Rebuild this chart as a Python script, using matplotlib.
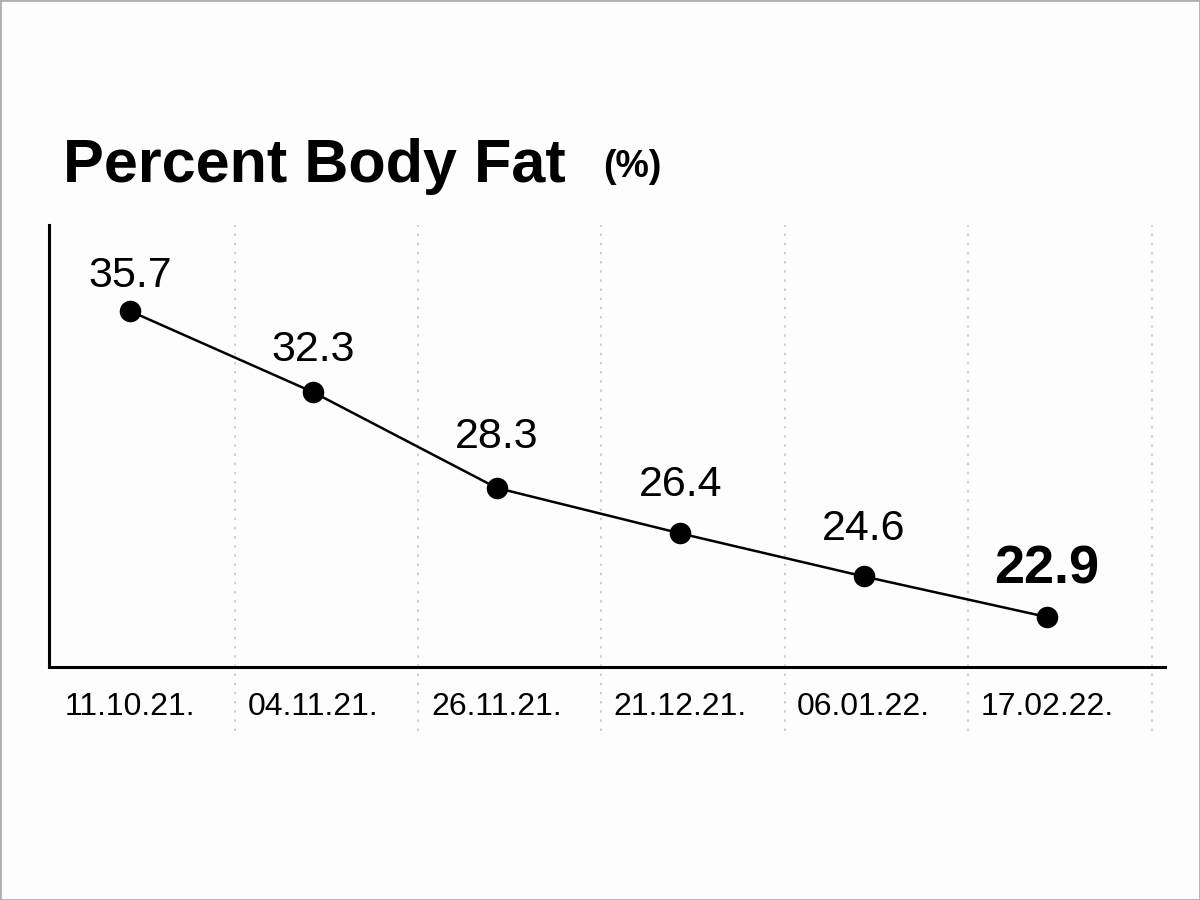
import matplotlib
matplotlib.use("Agg")
import matplotlib.pyplot as plt
import matplotlib.transforms as mtransforms

# data
dates = ["11.10.21.", "04.11.21.", "26.11.21.", "21.12.21.", "06.01.22.", "17.02.22."]
body_fat = [35.7, 32.3, 28.3, 26.4, 24.6, 22.9]

# gap between each point and its label baseline, in pixels
label_gap_px = [24, 31, 40, 37, 36, 34]

FONT = ["Liberation Sans", "DejaVu Sans"]

fig = plt.figure(figsize=(12, 9), dpi=100, facecolor="#fdfdfd")
ax = fig.add_axes([0.0408, 0.2589, 0.93, 0.4911])
ax.set_facecolor("#fdfdfd")

x = list(range(len(dates)))
ax.plot(x, body_fat, color="black", linewidth=1.8, marker="o",
        markersize=14.5, zorder=3)

# value labels, the last one in bold
for i, v in enumerate(body_fat):
    last = i == len(body_fat) - 1
    ax.annotate(f"{v}", (i, v), xytext=(0, label_gap_px[i] * 0.72),
                textcoords="offset points", ha="center", va="baseline",
                fontsize=39 if last else 31, family=FONT,
                fontweight="bold" if last else "normal")

# dotted separators between dates, running below the axis too
for i in range(len(dates)):
    ax.axvline(i + 0.57, ymin=-0.145, ymax=1.0, color="#c8c8c8",
               linestyle=(0, (1.5, 4)), linewidth=1.2, clip_on=False, zorder=1)

ax.set_xlim(-0.442, 5.643)
ax.set_ylim(20.81, 39.3)

ax.set_xticks(x)
ax.set_xticklabels(dates, family=FONT, fontsize=23)
shift = mtransforms.ScaledTranslation(6 / 100, 0, fig.dpi_scale_trans)
for lbl in ax.get_xticklabels():
    lbl.set_transform(lbl.get_transform() + shift)
ax.tick_params(axis="x", length=0, pad=18)
ax.set_yticks([])

for side in ["top", "right"]:
    ax.spines[side].set_visible(False)
for side in ["left", "bottom"]:
    ax.spines[side].set_linewidth(2.2)
    ax.spines[side].set_color("black")

# title
fig.text(63 / 1200, 1 - 182 / 900, "Percent Body Fat", family=FONT,
         fontsize=44, fontweight="bold", ha="left", va="baseline")
fig.text(603 / 1200, 1 - 177 / 900, "(%)", family=FONT,
         fontsize=27, fontweight="bold", ha="left", va="baseline")

# thin frame round the picture
fig.patches.append(plt.Rectangle((0, 0), 1, 1, transform=fig.transFigure,
                                 fill=False, edgecolor="#b0b0b0", linewidth=2))

fig.savefig("out.png", dpi=100, facecolor=fig.get_facecolor())
